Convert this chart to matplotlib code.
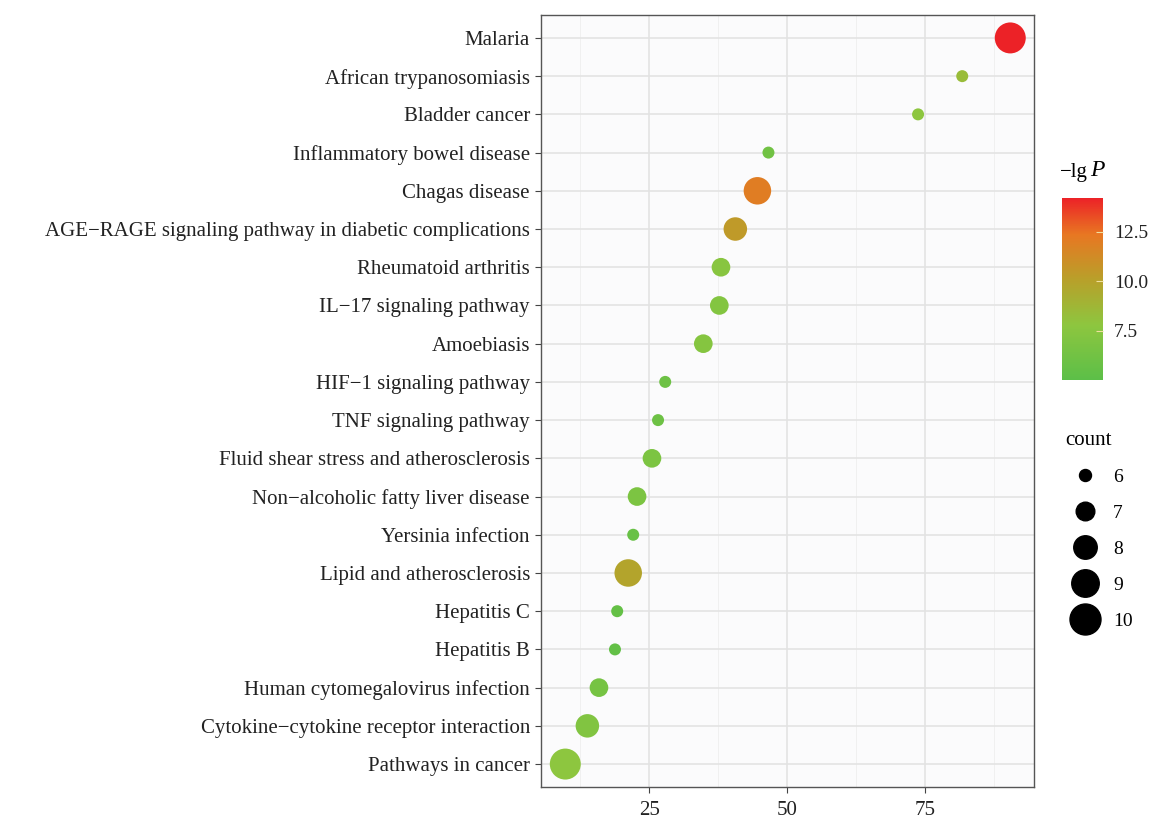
import numpy as np
import matplotlib
matplotlib.use('Agg')
import matplotlib.pyplot as plt
from matplotlib.colors import LinearSegmentedColormap, Normalize
from matplotlib.lines import Line2D

plt.rcParams['font.family'] = ['Liberation Serif', 'DejaVu Serif']

pathways = [
    'Malaria', 'African trypanosomiasis', 'Bladder cancer',
    'Inflammatory bowel disease', 'Chagas disease',
    'AGE\u2212RAGE signaling pathway in diabetic complications',
    'Rheumatoid arthritis', 'IL\u221217 signaling pathway', 'Amoebiasis',
    'HIF\u22121 signaling pathway', 'TNF signaling pathway',
    'Fluid shear stress and atherosclerosis',
    'Non\u2212alcoholic fatty liver disease', 'Yersinia infection',
    'Lipid and atherosclerosis', 'Hepatitis C', 'Hepatitis B',
    'Human cytomegalovirus infection',
    'Cytokine\u2212cytokine receptor interaction', 'Pathways in cancer',
]
x_values = [90.4, 81.7, 73.7, 46.6, 44.6, 40.6, 38.0, 37.7, 34.8, 27.9,
            26.6, 25.5, 22.8, 22.1, 21.2, 19.2, 18.8, 15.9, 13.8, 9.8]
counts = [10, 6, 6, 6, 9, 8, 7, 7, 7, 6, 6, 7, 7, 6, 9, 6, 6, 7, 8, 10]
neg_lg_p = [14.2, 8.4, 7.8, 6.2, 12.0, 10.4, 7.5, 7.2, 7.3, 6.0,
            6.0, 6.8, 6.8, 5.7, 9.8, 5.5, 5.4, 6.5, 7.1, 7.8]
size_levels = [6, 7, 8, 9, 10]
cbar_ticks = [7.5, 10.0, 12.5]

cmap = LinearSegmentedColormap.from_list(
    'gr', [(0.0, '#5cbf48'), (0.3, '#8dc63f'), (0.55, '#b8a02a'),
           (0.8, '#e87722'), (1.0, '#ec2227')])
norm = Normalize(vmin=5.0, vmax=14.2)


def diam_pt(c):
    # area-proportional sizing, diameter in pixels -> points (dpi 100)
    return 2 * np.sqrt(36 + 51 * (np.asarray(c) - 6)) * 0.72


fig = plt.figure(figsize=(11.71, 8.23), dpi=100)
ax = fig.add_axes([541 / 1171, 1 - 787 / 823, 493 / 1171, 772 / 823])

ypos = np.arange(len(pathways))[::-1]
ax.scatter(x_values, ypos, s=diam_pt(counts) ** 2, c=neg_lg_p, cmap=cmap,
           norm=norm, edgecolors='none', zorder=3)

ax.set_xlim(5.4, 94.7)
ax.set_ylim(-0.6, len(pathways) - 0.4)
ax.set_yticks(ypos)
ax.set_yticklabels(pathways, fontsize=15)
ax.set_xticks([25, 50, 75])
ax.set_xticks([12.5, 37.5, 62.5, 87.5], minor=True)
ax.tick_params(axis='x', labelsize=15, length=4, pad=6)
ax.tick_params(axis='y', length=4, pad=4)
ax.tick_params(colors='#444444', labelcolor='#222222')
ax.tick_params(axis='x', which='minor', length=0)
ax.grid(True, which='major', color='#e3e3e3', linewidth=1.2, zorder=0)
ax.grid(True, which='minor', axis='x', color='#eeeeee', linewidth=0.6, zorder=0)
ax.set_axisbelow(True)
ax.set_facecolor('#fbfbfc')
for sp in ax.spines.values():
    sp.set_color('#555555')
    sp.set_linewidth(1.0)

# colour bar
cax = fig.add_axes([1062 / 1171, 1 - 380 / 823, 41 / 1171, 182 / 823])
sm = plt.cm.ScalarMappable(cmap=cmap, norm=norm)
cb = fig.colorbar(sm, cax=cax, ticks=cbar_ticks)
cb.outline.set_visible(False)
cb.ax.tick_params(direction='in', length=5, color='#f0e0a0', width=0.8,
                  labelsize=14, labelcolor='#222222', pad=8)
cb.ax.set_yticklabels(['7.5', '10.0', '12.5'])
fig.text(1060 / 1171, 1 - 173 / 823, '\u2212lg', fontsize=15, va='center',
         ha='left')
fig.text(1090 / 1171, 1 - 171 / 823, 'P', fontsize=17, va='center',
         ha='left', style='italic')

# size legend
handles = [Line2D([], [], marker='o', linestyle='none', color='black',
                  markersize=float(diam_pt(c))) for c in size_levels]
leg = fig.legend(handles, [str(c) for c in size_levels], title='count',
                 loc='upper left', bbox_to_anchor=(1052 / 1171, 1 - 417 / 823),
                 frameon=False, fontsize=14, title_fontsize=15,
                 labelspacing=0.95, handletextpad=0.45, borderpad=0.2)
leg._legend_box.align = 'left'

fig.savefig('out.png', dpi=100)
